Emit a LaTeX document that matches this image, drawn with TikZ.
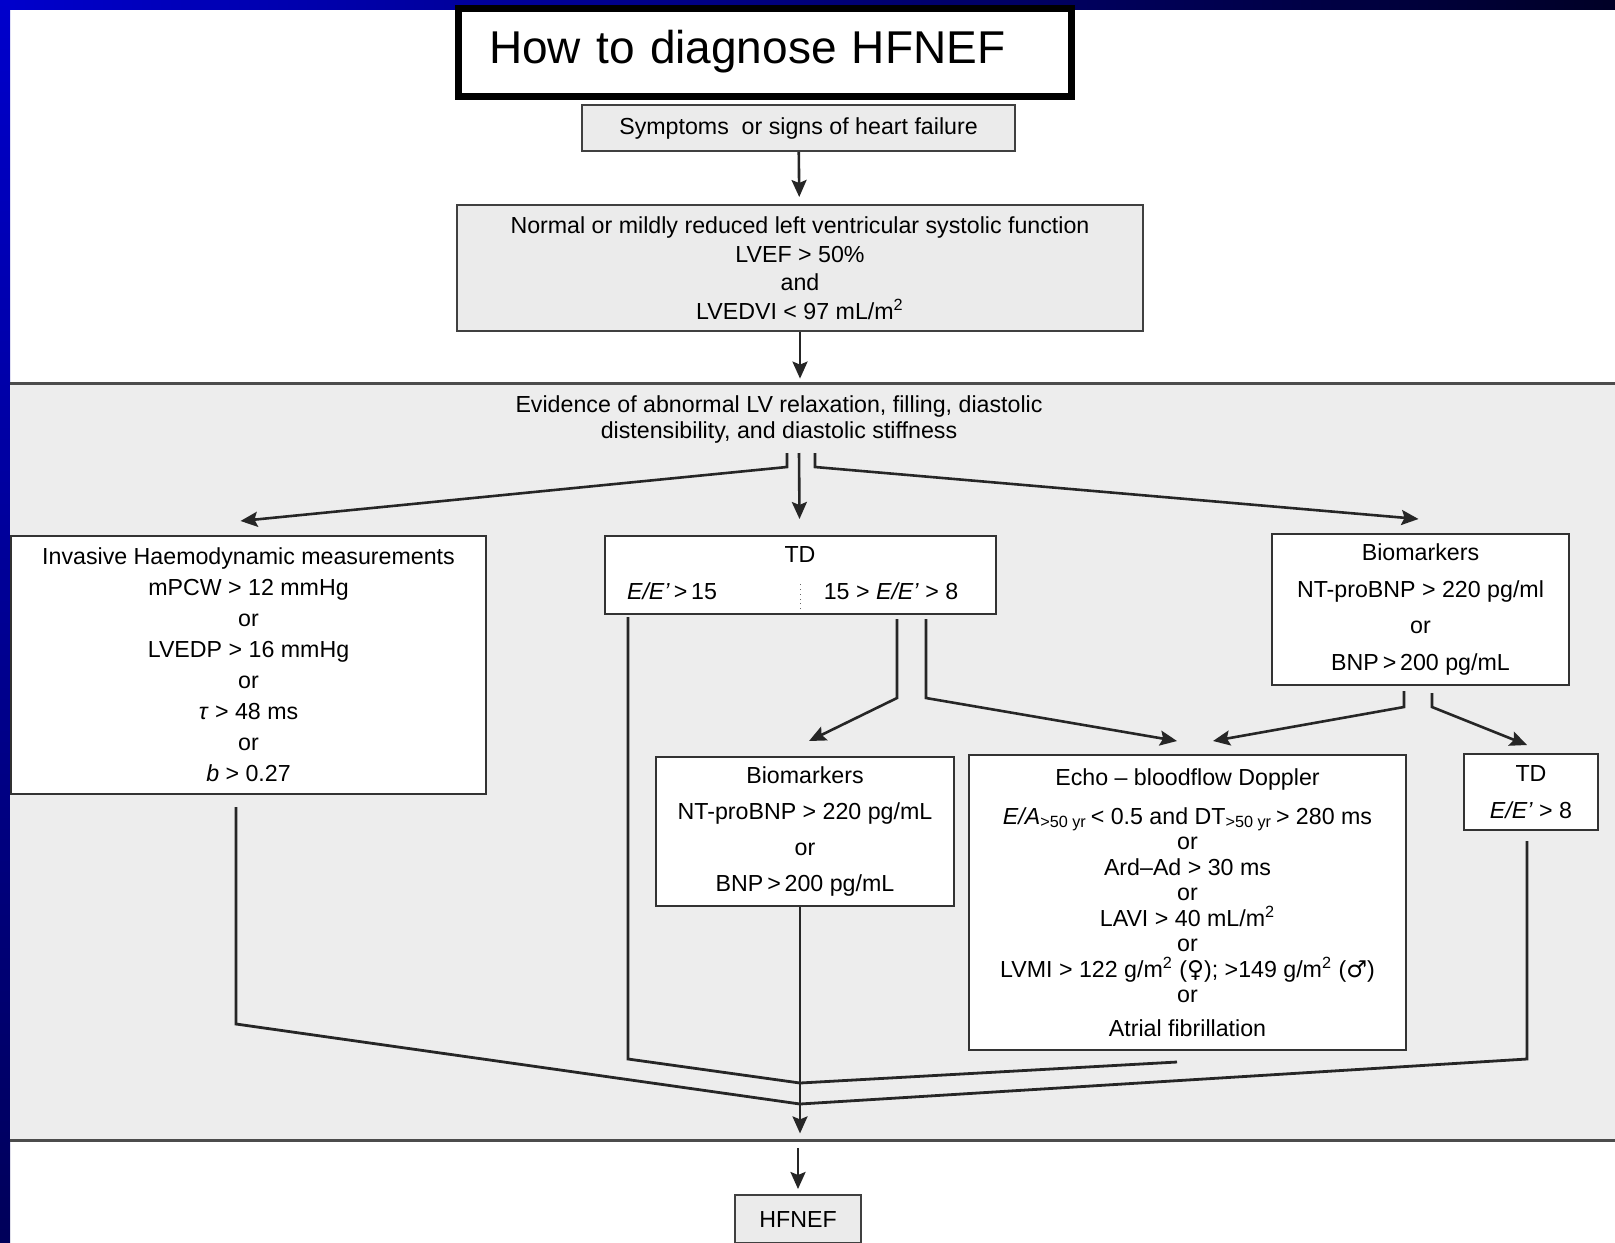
\documentclass[tikz,border=0pt]{standalone}
\usepackage{fontspec}
\setmainfont{Liberation Sans}
\newfontfamily\symfont{DejaVu Sans}
\usetikzlibrary{arrows.meta,calc}

\begin{document}
\begin{tikzpicture}[>={Stealth[length=8.5pt, width=7.5pt, inset=1.5pt]}, x=0.5pt, y=-0.5pt]

    \tikzstyle{greybox}  = [rectangle, draw=black!75, line width=1pt, fill=black!8, inner sep=0pt, align=center]
    \tikzstyle{whitebox} = [rectangle, draw=black!80, line width=1pt, fill=white, inner sep=0pt, align=center]
    \tikzstyle{txt}      = [font=\fontsize{11.6}{15.5}\selectfont]
    \tikzstyle{flow}     = [->, line width=1.3pt, black!85]
    \tikzstyle{merge}    = [line width=1.4pt, black!85]

    % page, blue frame and grey band
    \useasboundingbox (0,0) rectangle (1615,1242);
    \fill[white] (0,0) rectangle (1615,1242);
    \shade[left color=blue!80!black, right color=blue!15!black] (0,0) rectangle (1615,9);
    \shade[top color=blue!80!black, bottom color=blue!35!black] (0,0) rectangle (10,1242);

    \node (band) [rectangle, fill=black!7, minimum width=802.5pt, minimum height=378pt, inner sep=0pt] at (812.5,762) {};
    \draw[line width=1.2pt, black!70] (band.north west) -- (band.north east);
    \draw[line width=1.2pt, black!70] (band.south west) -- (band.south east);

    \node (title)  [rectangle, draw=black, line width=3.5pt, fill=white, minimum width=306.5pt, minimum height=44pt,
                    inner xsep=15.5pt, text width=275.5pt, align=left, font=\fontsize{23}{26}\selectfont]
                    at (764.5,52)      {How to diagnose HFNEF};

    \node (symp)   [greybox, txt, minimum width=216.5pt, minimum height=23pt]  at (798.5,128)   {Symptoms\ \ or signs of heart failure};
    \node (normal) [greybox, minimum width=343pt, minimum height=63pt, font=\fontsize{11.6}{14.25}\selectfont]
                    at (800,268)       {Normal or mildly reduced left ventricular systolic function\\ LVEF > 50\%\\ and\\ LVEDVI < 97 mL/m\textsuperscript{2}};

    \node (evid)   [align=center, font=\fontsize{11.6}{13}\selectfont] at (779,419)
                    {Evidence of abnormal LV relaxation, filling, diastolic\\ distensibility, and diastolic stiffness};

    \node (inv)    [whitebox, txt, minimum width=237.5pt, minimum height=129pt] at (248.5,665)
                    {Invasive Haemodynamic measurements\\ mPCW > 12 mmHg\\ or\\ LVEDP > 16 mmHg\\ or\\ \textit{τ} > 48 ms\\ or\\ \textit{b} > 0.27};

    \node (td)     [whitebox, minimum width=195.5pt, minimum height=39pt] at (800.5,575) {};
    \node (tdhead) [txt]               at (800,555)      {TD};
    \node (tdhigh) [txt]               at (672,591)      {\textit{E/E'}\,>\,15};
    \node (tdmid)  [txt]               at (891,591)      {15 > \textit{E/E'} > 8};
    \draw[dotted, black!60] ($(td.south)+(0,-6)$) -- ($(td.south)+(0,-34)$);

    \node (bioR)   [whitebox, minimum width=148.5pt, minimum height=75.5pt, font=\fontsize{11.6}{18.25}\selectfont]
                    at (1420.5,609.5)  {Biomarkers\\ NT-proBNP > 220 pg/ml\\ or\\ BNP\,>\,200 pg/mL};
    \node (bioM)   [whitebox, minimum width=149pt, minimum height=74.5pt, font=\fontsize{11.6}{18}\selectfont]
                    at (805,831.5)     {Biomarkers\\ NT-proBNP > 220 pg/mL\\ or\\ BNP\,>\,200 pg/mL};
    \node (echo)   [whitebox, minimum width=218.5pt, minimum height=147.5pt, font=\fontsize{11.6}{12.75}\selectfont]
                    at (1187.5,902.5)  {Echo -- bloodflow Doppler\\[6.75pt]
                                        \textit{E/A}\textsubscript{>50 yr}\,< 0.5 and DT\textsubscript{>50 yr}\,> 280 ms\\ or\\
                                        Ard--Ad > 30 ms\\ or\\ LAVI > 40 mL/m\textsuperscript{2}\\ or\\
                                        LVMI > 122 g/m\textsuperscript{2} ({\symfont ♀}); >149 g/m\textsuperscript{2} ({\symfont ♂})\\ or\\[4.25pt]
                                        Atrial fibrillation};
    \node (tdS)    [whitebox, minimum width=67pt, minimum height=38pt, font=\fontsize{11.6}{18.5}\selectfont]
                    at (1531,792)      {TD\\ \textit{E/E'} > 8};

    \node (hfnef)  [greybox, txt, minimum width=63pt, minimum height=24pt] at (798,1219) {HFNEF};

    % arrows down the top
    \draw[flow, shorten >=3.5pt] (symp) -- (normal);
    \draw[flow, shorten >=2.5pt] (normal) -- (normal.south |- band.north);

    % split of the evidence
    \coordinate (evL) at (787,453);
    \coordinate (evC) at (799,453);
    \coordinate (evR) at (815,453);
    \draw[flow] (evL) -- ++(0,14) -- ($(inv.north)+(-8,-14)$);
    \draw[flow] (evC) -- ($(td.north)+(-1,-16)$);
    \draw[flow] (evR) -- ++(0,14) -- ($(bioR.north)+(-2,-14)$);

    \draw[flow] ($(td.south)+(96.5,4)$)   -- ++(0,79) -- ($(bioM.north)+(4,-15)$);
    \draw[flow] ($(td.south)+(125.5,4)$)  -- ++(0,79) -- ($(echo.north)+(-10.5,-13)$);
    \draw[flow] ($(bioR.south)+(-16.5,5)$) -- ++(0,16) -- ($(echo.north)+(25.5,-13)$);
    \draw[flow] ($(bioR.south)+(11.5,7)$)  -- ++(0,14) -- ($(tdS.north)+(-4,-8)$);

    % everything joins towards HFNEF
    \coordinate (upper) at (800,1083);
    \coordinate (lower) at (800,1104);
    \draw[merge] ($(inv.south)+(-12.5,12)$)    -- ++(0,217) -- (lower);
    \draw[merge] ($(td.south west)+(24,2)$)    -- ++(0,442) -- (upper);
    \draw[merge] ($(echo.south)+(-10.5,11)$)   -- (upper);
    \draw[merge] ($(tdS.south)+(-4,10)$)       -- ++(0,218) -- (lower);
    \draw[flow]  (bioM.south -| upper) -- ($(band.south -| upper)+(0,-7)$);

    \draw[flow, shorten >=2.5pt] ($(band.south -| hfnef.north)+(0,8)$) -- (hfnef.north);

\end{tikzpicture}
\end{document}
